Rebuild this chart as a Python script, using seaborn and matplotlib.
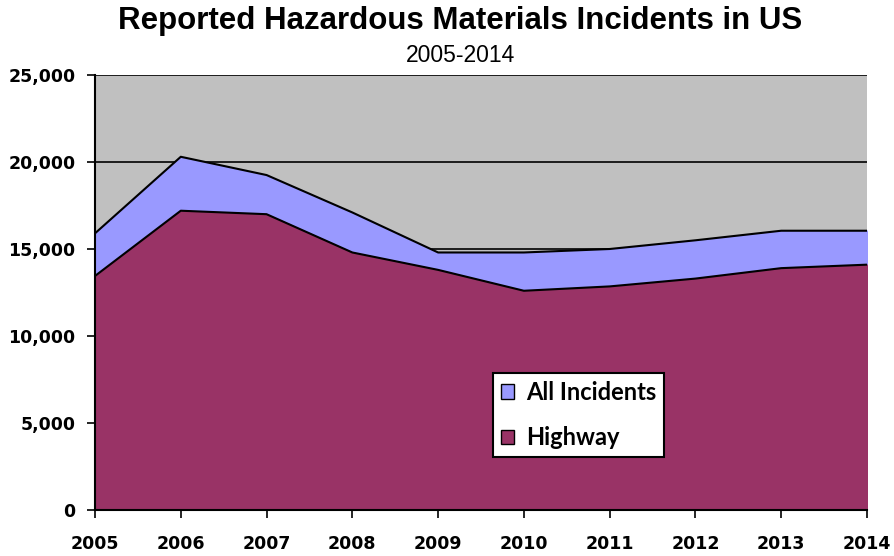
import matplotlib
matplotlib.use("Agg")
import matplotlib.pyplot as plt
import seaborn as sns
import pandas as pd
from matplotlib.patches import Patch
from matplotlib.ticker import FuncFormatter

# Data
years = [2005, 2006, 2007, 2008, 2009, 2010, 2011, 2012, 2013, 2014]
all_incidents = [15900, 20300, 19250, 17100, 14800, 14800, 15000, 15500, 16050, 16050]
highway = [13450, 17200, 17000, 14800, 13800, 12600, 12850, 13300, 13900, 14100]
y_ticks = [0, 5000, 10000, 15000, 20000, 25000]

df = pd.DataFrame({'year': years, 'All Incidents': all_incidents, 'Highway': highway})

sns.set_style("white")
plt.rcParams['font.family'] = ['DejaVu Sans']
plt.rcParams['text.color'] = 'black'
plt.rcParams['xtick.color'] = 'black'
plt.rcParams['ytick.color'] = 'black'

fig = plt.figure(figsize=(8.94, 5.56), dpi=100)
ax = fig.add_axes([95 / 894, 1 - 510 / 556, 772 / 894, 435 / 556])
ax.set_facecolor('#C0C0C0')

blue = '#9999FF'
maroon = '#993366'

# overlapping areas, total behind highway
ax.fill_between(df['year'], df['All Incidents'], 0, color=blue, zorder=2)
sns.lineplot(data=df, x='year', y='All Incidents', color='black', lw=1.5, ax=ax, zorder=3)
ax.fill_between(df['year'], df['Highway'], 0, color=maroon, zorder=4)
sns.lineplot(data=df, x='year', y='Highway', color='black', lw=1.5, ax=ax, zorder=5)

ax.set_xlim(years[0], years[-1])
ax.set_ylim(0, 25000)
ax.set_xticks(years)
ax.set_yticks(y_ticks)
ax.yaxis.set_major_formatter(FuncFormatter(lambda v, p: f'{int(v):,}'))
ax.set_xlabel('')
ax.set_ylabel('')

ax.yaxis.grid(True, color='black', lw=1.2, zorder=1)
ax.set_axisbelow(True)

for s in ['top', 'right']:
    ax.spines[s].set_visible(False)
for s in ['left', 'bottom']:
    ax.spines[s].set_color('black')
    ax.spines[s].set_linewidth(1.5)
    ax.spines[s].set_zorder(6)

ax.tick_params(axis='both', direction='out', length=6, width=1.2, color='black',
               left=True, bottom=True, labelsize=12.5)
ax.tick_params(axis='x', pad=12)
ax.tick_params(axis='y', pad=8)
for lbl in ax.get_xticklabels() + ax.get_yticklabels():
    lbl.set_fontweight('bold')

fig.text(0.515, 0.963, 'Reported Hazardous Materials Incidents in US', ha='center', va='center',
         fontsize=22.5, fontweight='bold', family='Liberation Sans')
fig.text(0.515, 0.9, '2005-2014', ha='center', va='center', fontsize=16.5, family='Liberation Sans')

handles = [Patch(facecolor=blue, edgecolor='black', label='All Incidents'),
           Patch(facecolor=maroon, edgecolor='black', label='Highway')]
leg = ax.legend(handles=handles, loc='upper left', bbox_to_anchor=(0.515, 0.316),
                frameon=True, fancybox=False, framealpha=1, edgecolor='black',
                handlelength=0.55, handleheight=0.55, handletextpad=0.5,
                labelspacing=0.95, borderpad=0.35, borderaxespad=0,
                prop={'family': 'Lato', 'weight': 'bold', 'size': 17})
leg.get_frame().set_linewidth(1.5)
leg.set_zorder(10)

fig.savefig('out.png', dpi=100)
